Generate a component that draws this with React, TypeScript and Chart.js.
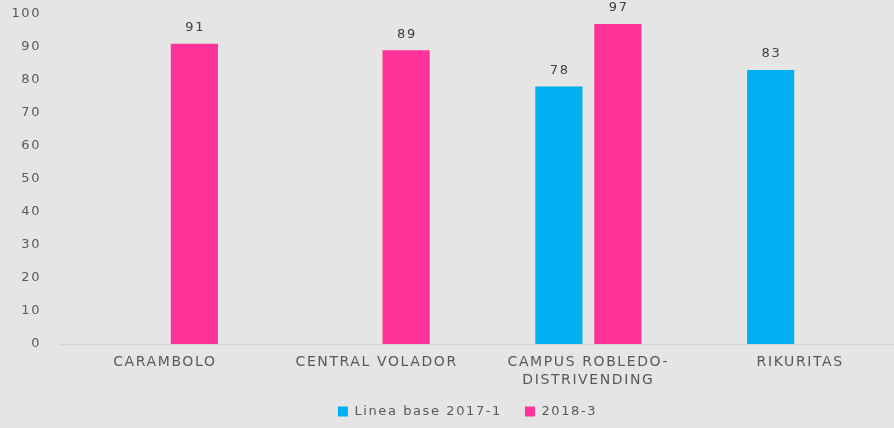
import React, { useEffect, useRef } from "react";
import { Chart, registerables } from "chart.js";

Chart.register(...registerables);

const categories: (string | string[])[] = [
  "CARAMBOLO",
  "CENTRAL VOLADOR",
  ["CAMPUS ROBLEDO-", "DISTRIVENDING"],
  "RIKURITAS",
];
const lineaBase: (number | null)[] = [null, null, 78, 83];
const serie2018: (number | null)[] = [91, 89, 97, null];
const seriesNames = ["Linea base 2017-1", "2018-3"];
const yTicks = { min: 0, max: 100, step: 10 };

const FONT = "'DejaVu Sans', Verdana, sans-serif";
const SPACING = "1.6px";

const spacingPlugin = {
  id: "spacing",
  beforeLayout(chart: any) {
    chart.ctx.letterSpacing = SPACING;
  },
  beforeDraw(chart: any) {
    chart.ctx.letterSpacing = SPACING;
    const x = chart.scales.x;
    if (x) x._computeLabelArea = () => undefined;
  },
};

const dataLabels = {
  id: "dataLabels",
  afterDatasetsDraw(chart: any) {
    const ctx = chart.ctx;
    ctx.save();
    ctx.letterSpacing = SPACING;
    ctx.font = `13px ${FONT}`;
    ctx.fillStyle = "#404040";
    ctx.textAlign = "center";
    ctx.textBaseline = "middle";
    chart.data.datasets.forEach((ds: any, i: number) => {
      const meta = chart.getDatasetMeta(i);
      meta.data.forEach((el: any, j: number) => {
        const v = ds.data[j];
        if (v === null || v === undefined) return;
        ctx.fillText(String(v), el.x + 0.8, el.y - 16);
      });
    });
    ctx.restore();
  },
};

export default function App() {
  const ref = useRef<HTMLCanvasElement>(null);
  useEffect(() => {
    if (!ref.current) return;
    const chart = new Chart(ref.current, {
      type: "bar",
      data: {
        labels: categories,
        datasets: [
          {
            label: seriesNames[0],
            data: lineaBase,
            backgroundColor: "#00B0F0",
            categoryPercentage: 0.557,
            barPercentage: 0.8,
          },
          {
            label: seriesNames[1],
            data: serie2018,
            backgroundColor: "#FF3399",
            categoryPercentage: 0.557,
            barPercentage: 0.8,
          },
        ],
      },
      options: {
        animation: false,
        responsive: false,
        maintainAspectRatio: false,
        layout: { padding: { top: 14, right: 0, left: 0, bottom: 0 } },
        plugins: {
          legend: {
            position: "bottom",
            labels: {
              boxWidth: 10,
              boxHeight: 10,
              padding: 23,
              color: "#595959",
              font: { family: FONT, size: 13 },
            },
          },
          tooltip: { enabled: false },
        },
        scales: {
          x: {
            grid: { display: false, drawTicks: false },
            border: { display: true, color: "#d4d4d4" },
            ticks: {
              color: "#595959",
              font: { family: FONT, size: 14, lineHeight: 1.35 },
              padding: 8.5,
              maxRotation: 0,
              autoSkip: false,
            },
            afterFit: (scale: any) => {
              scale.height = 38;
            },
          },
          y: {
            min: yTicks.min,
            max: yTicks.max,
            grid: { display: false, drawTicks: true, tickLength: 18 },
            border: { display: false },
            ticks: {
              stepSize: yTicks.step,
              color: "#595959",
              font: { family: FONT, size: 13 },
              padding: 0,
            },
            afterFit: (scale: any) => {
              scale.width = 59;
            },
          },
          yRight: {
            position: "right",
            display: true,
            grid: { display: false, drawTicks: false },
            border: { display: false },
            ticks: { display: false },
            afterFit: (scale: any) => {
              scale.width = 29;
            },
          },
        },
      },
      plugins: [spacingPlugin, dataLabels],
    });
    return () => chart.destroy();
  }, []);
  return (
    <div
      style={{
        position: "fixed",
        left: 0,
        top: 0,
        width: 894,
        height: 428,
        overflow: "hidden",
        background: "#e5e5e5",
      }}
    >
      <canvas ref={ref} width={935} height={428} style={{ display: "block" }} />
    </div>
  );
}
